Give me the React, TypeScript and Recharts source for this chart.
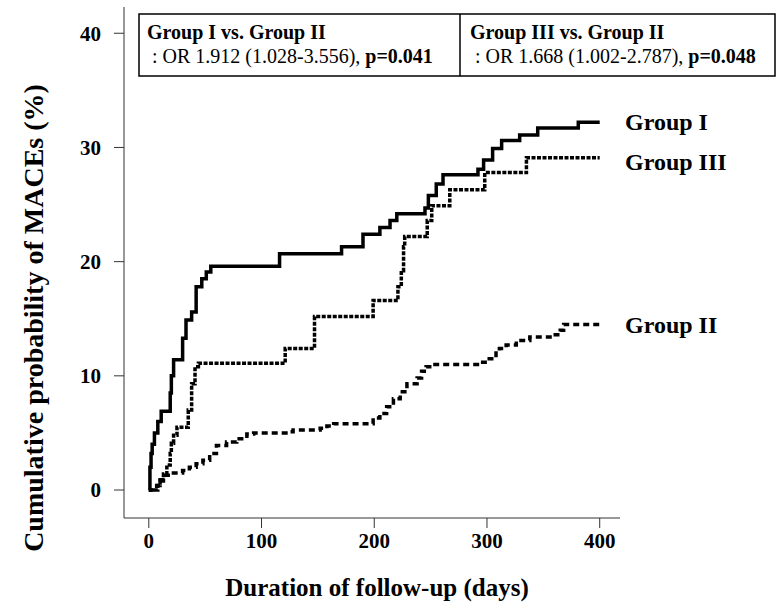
import { LineChart, Line, XAxis, YAxis } from 'recharts';

// Kaplan-Meier style cumulative event curves (days vs %)
const groupIDays = [0, 1, 2, 3, 5, 8, 11, 19, 20, 22, 30, 33, 38, 42, 47, 51, 55, 116, 171, 190, 205, 214, 220, 245, 248, 255, 261, 292, 297, 305, 313, 329, 345, 381, 400];
const groupIPct = [0, 2.0, 3.2, 4.0, 5.0, 6.0, 6.9, 8.5, 10.0, 11.4, 13.3, 14.9, 15.6, 17.8, 18.5, 19.1, 19.6, 20.7, 21.3, 22.4, 23.0, 23.6, 24.2, 24.7, 25.8, 26.8, 27.6, 28.1, 28.9, 29.9, 30.6, 31.1, 31.7, 32.2, 32.2];

const groupIIDays = [0, 7, 10, 14, 20, 30, 36, 42, 48, 54, 60, 69, 78, 87, 93, 124, 128, 152, 158, 164, 199, 205, 211, 217, 223, 229, 238, 242, 246, 252, 294, 300, 308, 311, 317, 326, 338, 359, 365, 368, 400];
const groupIIPct = [0, 0.4, 0.9, 1.3, 1.5, 1.7, 2.0, 2.3, 2.6, 3.2, 3.9, 4.2, 4.5, 4.9, 5.0, 5.1, 5.25, 5.4, 5.6, 5.8, 6.3, 6.7, 7.3, 8.0, 8.6, 9.3, 9.8, 10.4, 10.8, 11.0, 11.2, 11.5, 12.0, 12.4, 12.7, 13.1, 13.4, 13.6, 14.0, 14.5, 14.5];

const groupIIIDays = [0, 8, 10, 13, 16, 19, 20, 22, 25, 35, 38, 41, 44, 121, 147, 199, 221, 224, 226, 227, 247, 251, 267, 298, 335, 400];
const groupIIIPct = [0, 0.4, 0.8, 1.4, 2.2, 3.2, 4.1, 4.8, 5.5, 7.0, 9.3, 10.8, 11.1, 12.4, 15.2, 16.6, 17.8, 19.2, 21.3, 22.2, 23.6, 24.9, 26.3, 27.8, 29.1, 29.1];

const xTicks = [0, 100, 200, 300, 400];
const yTicks = [0, 10, 20, 30, 40];

const toPoints = (days: number[], pct: number[]) => days.map((d, i) => ({ day: d, pct: pct[i] }));

const groupI = toPoints(groupIDays, groupIPct);
const groupII = toPoints(groupIIDays, groupIIPct);
const groupIII = toPoints(groupIIIDays, groupIIIPct);

const serif = '"Liberation Serif", "Times New Roman", serif';
const tickStyle = { fill: '#000', fontSize: 21, fontWeight: 700, fontFamily: serif };

export default function App() {
  return (
    <div style={{ position: 'absolute', left: 0, top: 0, background: '#fff' }}>
      <LineChart width={781} height={603} margin={{ top: 7, right: 161, bottom: 0, left: 0 }}>
        <XAxis
          type="number"
          dataKey="day"
          domain={[-22, 418]}
          ticks={xTicks}
          allowDataOverflow
          height={85}
          tickSize={10}
          tickMargin={5}
          stroke="#333"
          tick={tickStyle}
        />
        <YAxis
          type="number"
          dataKey="pct"
          domain={[-2.45, 42.3]}
          ticks={yTicks}
          allowDataOverflow
          width={124}
          tickSize={10}
          tickMargin={13}
          stroke="#333"
          tick={tickStyle}
        />
        <Line data={groupII} dataKey="pct" type="stepAfter" stroke="#000" strokeWidth={3.5}
          strokeDasharray="6 4" dot={false} activeDot={false} isAnimationActive={false} />
        <Line data={groupIII} dataKey="pct" type="stepAfter" stroke="#000" strokeWidth={3.5}
          strokeDasharray="4 1.5" dot={false} activeDot={false} isAnimationActive={false} />
        <Line data={groupI} dataKey="pct" type="stepAfter" stroke="#000" strokeWidth={3.5}
          dot={false} activeDot={false} isAnimationActive={false} />

        {/* odds ratio box */}
        <rect x={139} y={14} width={636} height={62} fill="#fff" stroke="#000" strokeWidth={1.5} />
        <line x1={460} y1={14} x2={460} y2={76} stroke="#000" strokeWidth={1.5} />
        <g fontFamily={serif} fontSize={20} fill="#000">
          <text x={147} y={39} fontWeight={700}>Group I vs. Group II</text>
          <text x={152} y={63}>
            {'  : OR 1.912 (1.028-3.556), '}
            <tspan fontWeight={700}>p=0.041</tspan>
          </text>
          <text x={470} y={39} fontWeight={700}>Group III vs. Group II</text>
          <text x={475} y={63}>
            {'  : OR 1.668 (1.002-2.787), '}
            <tspan fontWeight={700}>p=0.048</tspan>
          </text>
        </g>

        {/* curve labels */}
        <g fontFamily={serif} fontSize={24} fontWeight={700} fill="#000">
          <text x={625} y={130}>Group I</text>
          <text x={625} y={170}>Group III</text>
          <text x={625} y={333}>Group II</text>
        </g>

        {/* axis titles */}
        <text x={377} y={596} textAnchor="middle" fontFamily={serif} fontSize={25} fontWeight={700} fill="#000">
          Duration of follow-up (days)
        </text>
        <text x={43} y={318} transform="rotate(-90 43 318)" textAnchor="middle" fontFamily={serif}
          fontSize={28} fontWeight={700} fill="#000">
          Cumulative probability of MACEs (%)
        </text>
      </LineChart>
    </div>
  );
}
